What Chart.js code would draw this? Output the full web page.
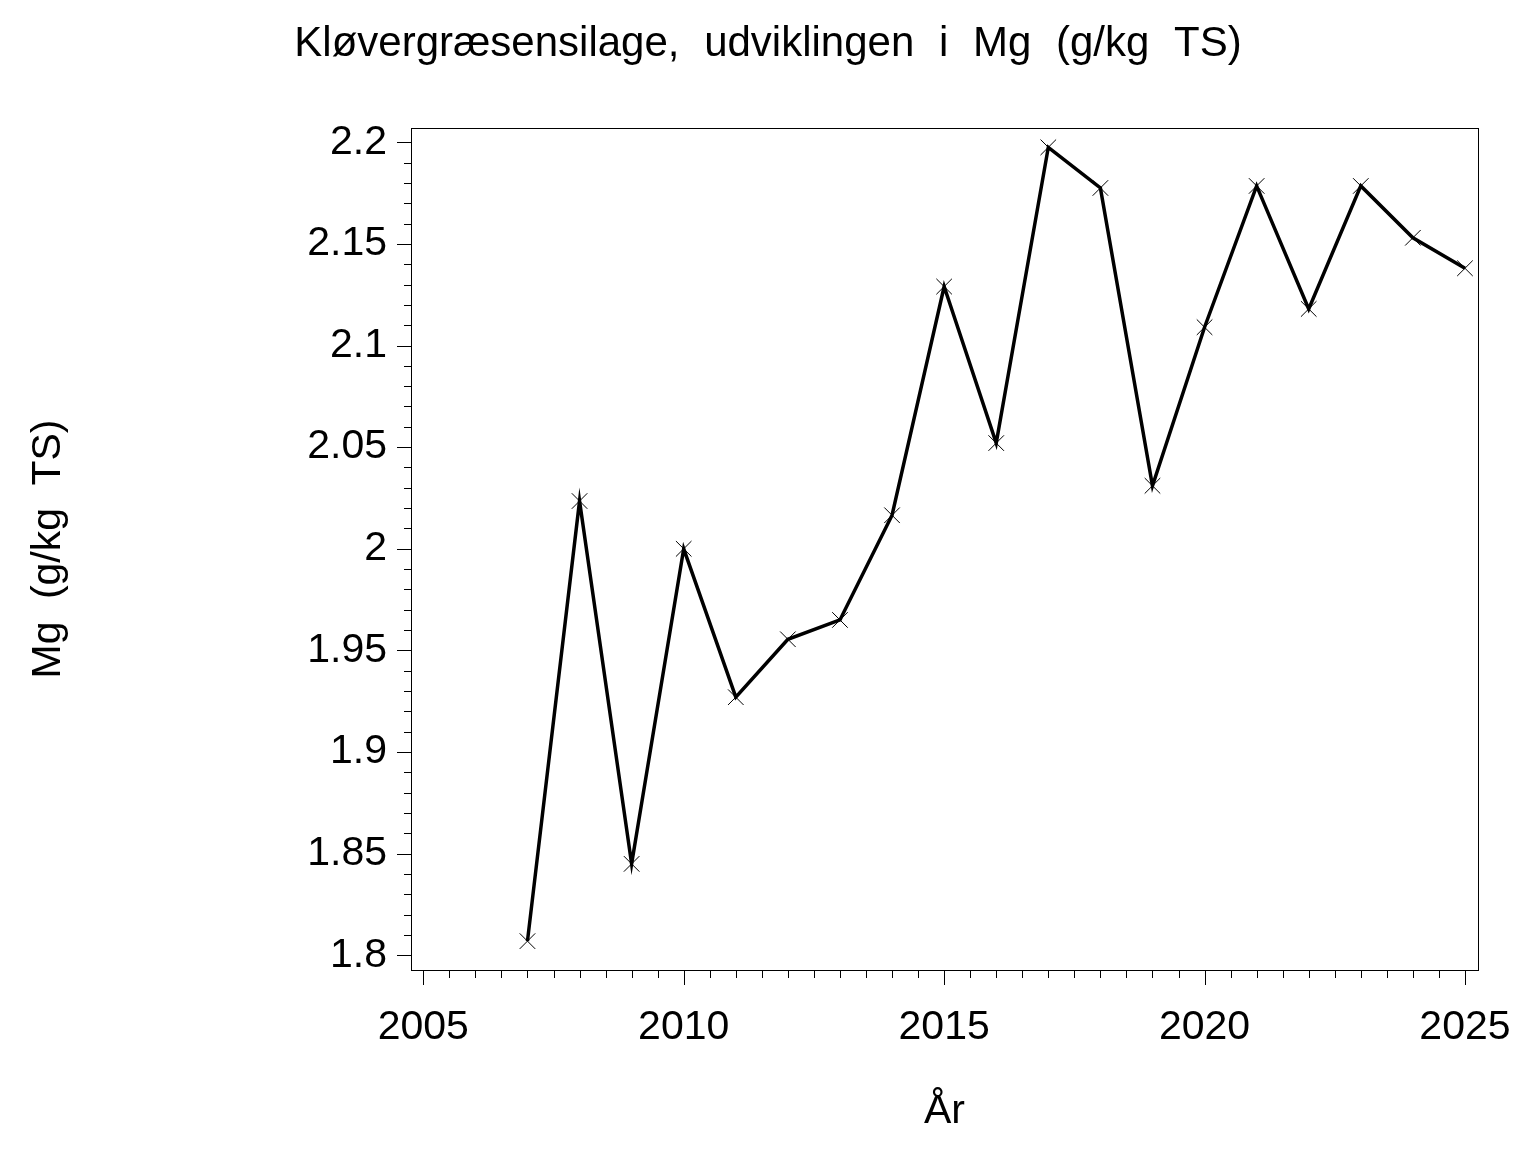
<!DOCTYPE html>
<html>
<head>
<meta charset="utf-8">
<script src="https://cdn.jsdelivr.net/npm/chart.js@4/dist/chart.umd.min.js"></script>
<style>
  html, body { margin: 0; padding: 0; background: #ffffff; }
  canvas { display: block; }
</style>
</head>
<body>
<canvas id="c" width="1536" height="1152"></canvas>
<script>
// ---- data ----
const chartTitle = 'Kløvergræsensilage, udviklingen i Mg (g/kg TS)';
const xTitle = 'År';
const yTitle = 'Mg (g/kg TS)';
const years = [2007, 2008, 2009, 2010, 2011, 2012, 2013, 2014, 2015, 2016, 2017, 2018, 2019, 2020, 2021, 2022, 2023, 2024, 2025];
const mgValues = [1.807, 2.0235, 1.845, 2.000, 1.927, 1.9555, 1.965, 2.0165, 2.129, 2.052, 2.1975, 2.1775, 2.031, 2.109, 2.1785, 2.118, 2.1785, 2.153, 2.138];
const xTickValues = [2005, 2010, 2015, 2020, 2025];
const yTickValues = [1.8, 1.85, 1.9, 1.95, 2.0, 2.05, 2.1, 2.15, 2.2];
const xMinorStep = 0.5;
const yMinorStep = 0.01;

const FONT = '"Liberation Sans", Arial, sans-serif';
const FS = 41;

const framePlugin = {
  id: 'frame',
  beforeDraw(chart) {
    chart.ctx.wordSpacing = '11px';
  },
  afterDraw(chart) {
    const ctx = chart.ctx;
    const a = chart.chartArea;
    const xs = chart.scales.x, ys = chart.scales.y;
    ctx.save();
    ctx.wordSpacing = '13px';
    ctx.strokeStyle = '#000';
    ctx.lineWidth = 1;
    // box
    ctx.strokeRect(Math.round(a.left) + 0.5, Math.round(a.top) + 0.5, Math.round(a.right - a.left), Math.round(a.bottom - a.top));
    // x ticks
    ctx.beginPath();
    const x0 = xTickValues[0], x1 = xTickValues[xTickValues.length - 1];
    for (let i = 0; x0 + i * xMinorStep <= x1 + 1e-9; i++) {
      const v = x0 + i * xMinorStep;
      const px = Math.round(xs.getPixelForValue(v)) + 0.5;
      const major = xTickValues.some(t => Math.abs(t - v) < 1e-9);
      ctx.moveTo(px, a.bottom);
      ctx.lineTo(px, a.bottom + (major ? 15 : 8));
    }
    // y ticks
    const y0 = yTickValues[0], y1 = yTickValues[yTickValues.length - 1];
    for (let i = 0; y0 + i * yMinorStep <= y1 + 1e-9; i++) {
      const v = y0 + i * yMinorStep;
      const py = Math.round(ys.getPixelForValue(v)) + 0.5;
      const major = yTickValues.some(t => Math.abs(t - v) < 1e-9);
      ctx.moveTo(a.left, py);
      ctx.lineTo(a.left - (major ? 14 : 7), py);
    }
    ctx.stroke();
    // main title
    ctx.fillStyle = '#000';
    ctx.font = '42px ' + FONT;
    ctx.textAlign = 'center';
    ctx.textBaseline = 'alphabetic';
    ctx.fillText(chartTitle, chart.width / 2, 56);
    ctx.restore();
    ctx.wordSpacing = '0px';
  }
};

const points = years.map((yr, i) => ({ x: yr, y: mgValues[i] }));

new Chart(document.getElementById('c'), {
  type: 'line',
  data: {
    datasets: [{
      data: points,
      borderColor: '#000',
      backgroundColor: '#000',
      borderWidth: 3.5,
      tension: 0,
      pointStyle: 'crossRot',
      pointRadius: 11,
      pointBorderWidth: 1,
      pointBorderColor: '#000',
      fill: false
    }]
  },
  options: {
    responsive: false,
    animation: false,
    devicePixelRatio: 1,
    layout: { padding: { top: 128, right: 58, left: 0, bottom: 0 } },
    plugins: { legend: { display: false }, tooltip: { enabled: false }, title: { display: false } },
    scales: {
      x: {
        type: 'linear',
        min: 2004.764,
        max: 2025.25,
        afterBuildTicks: s => { s.ticks = xTickValues.map(v => ({ value: v })); },
        afterFit: s => { s.height = 182; s.paddingLeft = 0; s.paddingRight = 0; },
        grid: { display: false, drawTicks: false },
        border: { display: false },
        ticks: { color: '#000', font: { family: FONT, size: FS }, padding: 33, maxRotation: 0, autoSkip: false, callback: v => String(v) },
        title: { display: true, text: xTitle, color: '#000', font: { family: FONT, size: FS }, padding: { top: 0, bottom: 16 } }
      },
      y: {
        type: 'linear',
        min: 1.7928,
        max: 2.207,
        afterBuildTicks: s => { s.ticks = yTickValues.map(v => ({ value: v })); },
        afterFit: s => { s.width = 411; s.paddingTop = 0; s.paddingBottom = 0; },
        grid: { display: false, drawTicks: false },
        border: { display: false },
        ticks: { color: '#000', font: { family: FONT, size: FS }, padding: 24, autoSkip: false, callback: v => String(v) },
        title: { display: true, text: yTitle, color: '#000', font: { family: FONT, size: FS }, padding: { top: 24, bottom: 0 } }
      }
    }
  },
  plugins: [framePlugin]
});
</script>
</body>
</html>
